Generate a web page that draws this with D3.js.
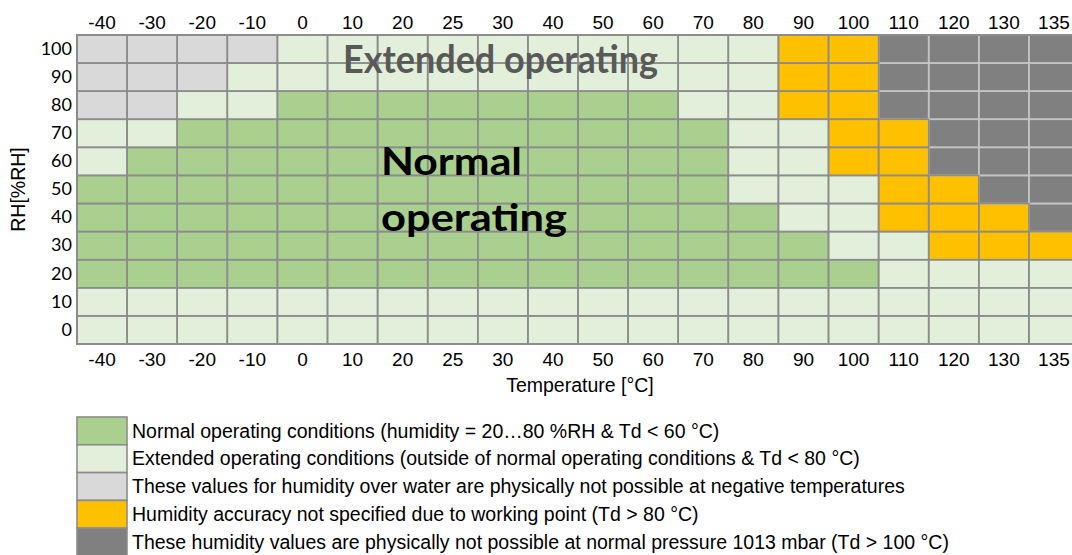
<!DOCTYPE html>
<html>
<head>
<meta charset="utf-8">
<script src="https://cdn.jsdelivr.net/npm/d3@7"></script>
<style>
  html, body { margin: 0; padding: 0; background: #fff; }
  svg { display: block; }
</style>
</head>
<body>
<svg id="chart" width="1072" height="555"></svg>
<script>
// ---- data ----
const temperatures = ["-40","-30","-20","-10","0","10","20","25","30","40","50","60","70","80","90","100","110","120","130","135"];
const humidities = ["100","90","80","70","60","50","40","30","20","10","0"];
// zone code per RH row (N normal, E extended, G impossible over water, O accuracy not specified, D impossible)
const zoneRows = [
  "GGGGEEEEEEEEEEOODDDD", // 100
  "GGGEEEEEEEEEEEOODDDD", // 90
  "GGEENNNNNNNNEEOODDDD", // 80
  "EENNNNNNNNNNNEEOODDD", // 70
  "ENNNNNNNNNNNNEEOODDD", // 60
  "NNNNNNNNNNNNNEEEOODD", // 50
  "NNNNNNNNNNNNNNEEOOOD", // 40
  "NNNNNNNNNNNNNNNEEOOO", // 30
  "NNNNNNNNNNNNNNNNEEEE", // 20
  "EEEEEEEEEEEEEEEEEEEE", // 10
  "EEEEEEEEEEEEEEEEEEEE"  // 0
];
const zoneCodes = ["N","E","G","O","D"];
const zoneColors = ["#a9d08e","#e2efda","#d9d9d9","#ffc000","#808080"];
const legendLabels = [
  "Normal operating conditions (humidity = 20\u202680 %RH & Td < 60 \u00b0C)",
  "Extended operating conditions (outside of normal operating conditions & Td < 80 \u00b0C)",
  "These values for humidity over water are physically not possible at negative temperatures",
  "Humidity accuracy not specified due to working point (Td > 80 \u00b0C)",
  "These humidity values are physically not possible at normal pressure 1013 mbar (Td > 100 \u00b0C)"
];

// ---- layout ----
const svg = d3.select("#chart");
const gLeftX = 77, gTopY = 35, colW = 50.1, gBottomY = 344;
const x = d3.scaleBand().domain(temperatures).range([gLeftX, gLeftX + colW * temperatures.length]).padding(0);
const y = d3.scaleBand().domain(humidities).range([gTopY, gBottomY]).padding(0);
const color = d3.scaleOrdinal().domain(zoneCodes).range(zoneColors);

const cells = [];
humidities.forEach((rh, i) => {
  temperatures.forEach((t, j) => {
    cells.push({ t, rh, z: zoneRows[i][j] });
  });
});

const grid = svg.append("g");
function cellRects(cls, data) {
  return grid.selectAll("rect." + cls).data(data).join("rect")
    .attr("class", cls)
    .attr("x", d => x(d.t)).attr("y", d => y(d.rh))
    .attr("width", x.bandwidth()).attr("height", y.bandwidth());
}
cellRects("fill", cells).attr("fill", d => color(d.z));
cellRects("dark", cells.filter(d => d.z === "D"))
  .attr("fill", "none").attr("stroke", "#c4c4c4").attr("stroke-width", 1.6);
cellRects("line", cells.filter(d => d.z !== "D"))
  .attr("fill", "none").attr("stroke", "#8c8c8c").attr("stroke-width", 1.6);
grid.append("rect")
  .attr("x", x.range()[0]).attr("y", gTopY)
  .attr("width", x.range()[1] - x.range()[0]).attr("height", gBottomY - gTopY)
  .attr("fill", "none").attr("stroke", "#8c8c8c").attr("stroke-width", 2);

// ---- axes ----
const axisFont = "'Liberation Sans', Arial, sans-serif";
const gTop = svg.append("g").attr("transform", `translate(0,${gTopY})`)
  .call(d3.axisTop(x).tickSize(0).tickPadding(6));
const gBot = svg.append("g").attr("transform", `translate(0,${gBottomY})`)
  .call(d3.axisBottom(x).tickSize(0).tickPadding(9));
const gLeft = svg.append("g").attr("transform", `translate(${gLeftX},0)`)
  .call(d3.axisLeft(y).tickSize(0).tickPadding(5));
[gTop, gBot].forEach(g => {
  g.select(".domain").remove();
  g.selectAll("text").attr("font-family", axisFont).attr("font-size", 19).attr("fill", "#000");
});
gLeft.select(".domain").remove();
gLeft.selectAll("text").attr("font-family", "Lato, 'Open Sans', sans-serif").attr("font-size", 18).attr("fill", "#000");

svg.append("text")
  .attr("x", 580).attr("y", 392)
  .attr("text-anchor", "middle")
  .attr("font-family", axisFont).attr("font-size", 19.5)
  .text("Temperature [\u00b0C]");
svg.append("text")
  .attr("transform", "translate(25,189.5) rotate(-90)")
  .attr("text-anchor", "middle")
  .attr("font-family", axisFont).attr("font-size", 19.5)
  .text("RH[%RH]");

// ---- overlay labels ----
const boldFont = "Lato, 'Open Sans', sans-serif";
svg.append("text")
  .attr("x", 343).attr("y", 72.5)
  .attr("font-family", boldFont).attr("font-weight", "bold").attr("font-size", 39)
  .attr("fill", "#595959")
  .attr("textLength", 315).attr("lengthAdjust", "spacingAndGlyphs")
  .text("Extended operating");
svg.append("text")
  .attr("x", 381).attr("y", 174.5)
  .attr("font-family", boldFont).attr("font-weight", "bold").attr("font-size", 38)
  .attr("fill", "#000")
  .attr("textLength", 141).attr("lengthAdjust", "spacingAndGlyphs")
  .text("Normal");
svg.append("text")
  .attr("x", 381).attr("y", 230.5)
  .attr("font-family", boldFont).attr("font-weight", "bold").attr("font-size", 38)
  .attr("fill", "#000")
  .attr("textLength", 186).attr("lengthAdjust", "spacingAndGlyphs")
  .text("operating");

// ---- legend ----
const legY = 417, legH = 27.8;
const leg = svg.append("g");
const items = leg.selectAll("g").data(legendLabels).join("g")
  .attr("transform", (d, i) => `translate(${gLeftX},${legY + i * legH})`);
items.append("rect")
  .attr("width", 50).attr("height", legH)
  .attr("fill", (d, i) => zoneColors[i])
  .attr("stroke", "#8c8c8c").attr("stroke-width", 1.6);
items.append("text")
  .attr("x", 55).attr("y", legH / 2 + 6.6)
  .attr("font-family", axisFont).attr("font-size", 19.5)
  .attr("fill", "#000")
  .text(d => d);
</script>
</body>
</html>
